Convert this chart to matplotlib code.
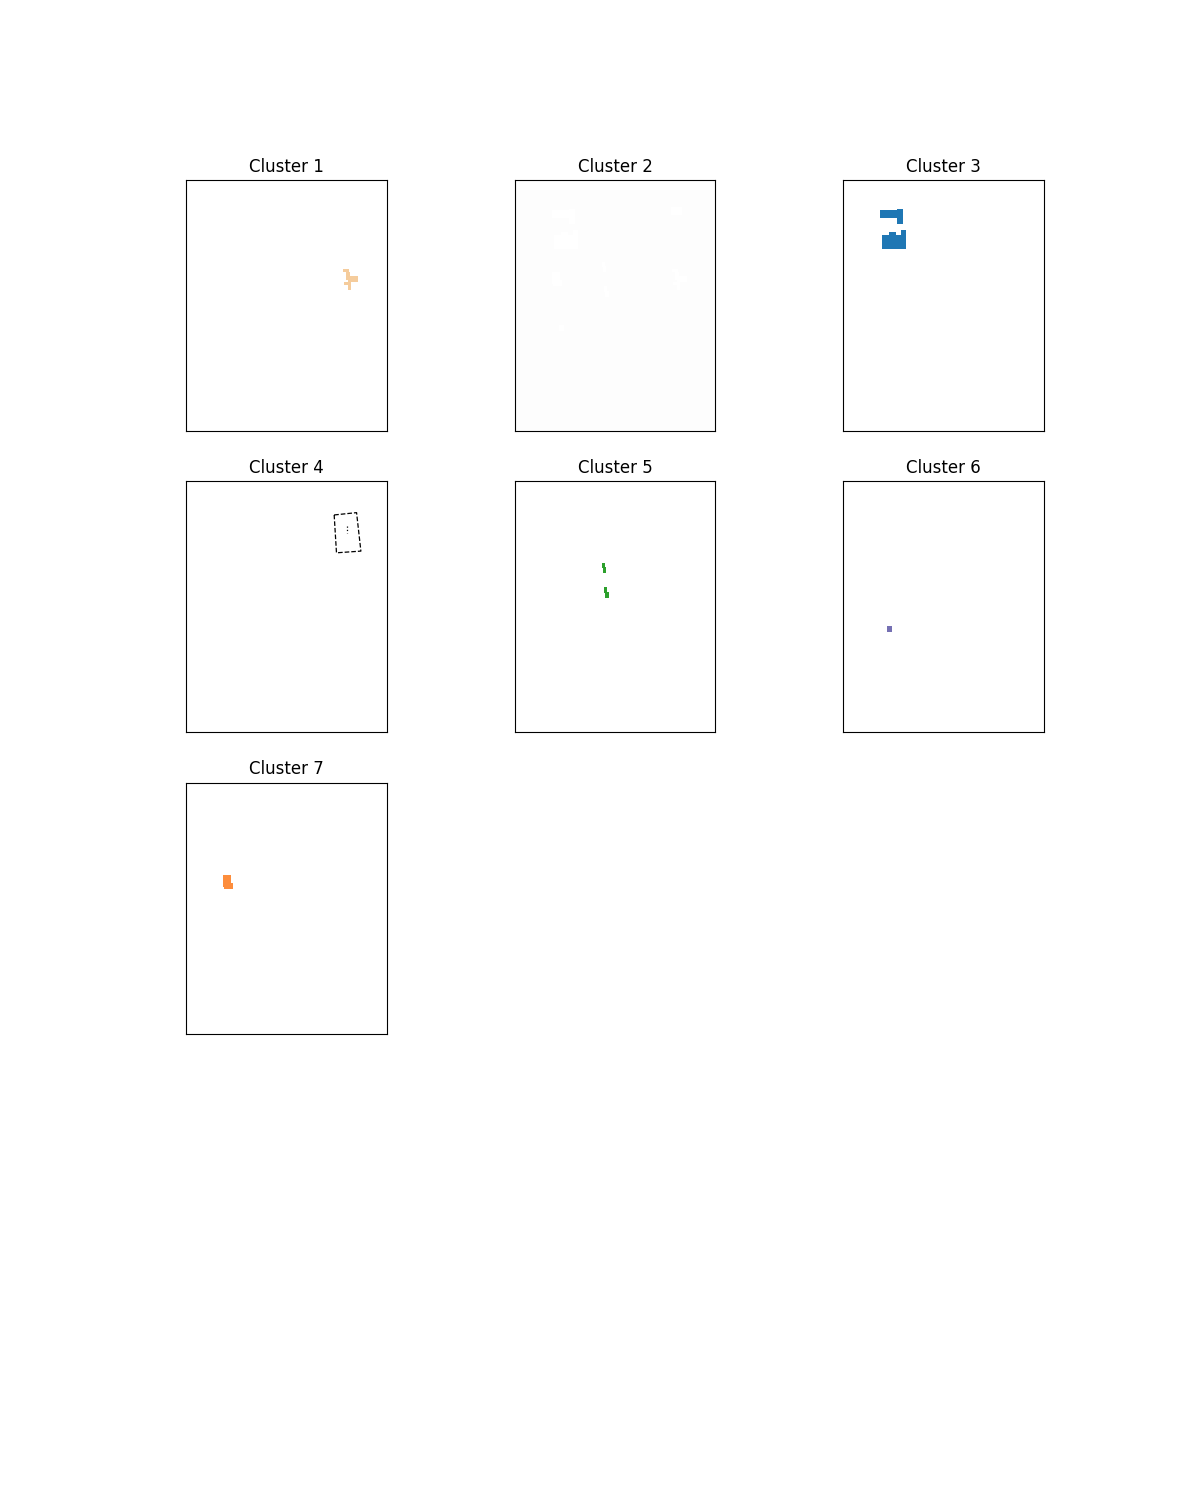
import numpy as np
import matplotlib
matplotlib.use("Agg")
import matplotlib.pyplot as plt
from matplotlib.colors import to_rgb

# image size (rows, cols) of the segmentation map
img_h, img_w = 250, 200

cluster_names = ["Cluster 1", "Cluster 2", "Cluster 3", "Cluster 4",
                 "Cluster 5", "Cluster 6", "Cluster 7"]
cluster_colors = ["#f5cc9c", "#fdfdfd", "#1f77b4", "#ffffff",
                  "#2ca02c", "#7570b3", "#fd8d3c"]

# regions per cluster as rectangles (x0, x1, y0, y1) in pixel coords
# cluster 2 is the background = everything not covered by the others
regions_c1 = [(156, 162, 89, 92), (159, 163, 92, 100), (161, 171, 96, 102),
              (157, 161, 102, 105), (161, 164, 102, 110)]
regions_c3 = [(37, 59, 31, 39), (54, 60, 30, 45),
              (39, 63, 56, 69), (58, 63, 51, 69), (46, 53, 53, 57)]
regions_c4 = [(155, 166, 28, 36)]
regions_c5 = [(87, 90, 82, 87), (88, 91, 86, 92), (89, 92, 106, 112), (90, 94, 111, 117)]
regions_c6 = [(44, 49, 145, 151)]
regions_c7 = [(37, 45, 92, 104), (38, 47, 100, 106)]

# outline of cluster 4 (dashed boundary) and its inner mark
c4_outline_x = [146.7, 169.0, 173.3, 149.0, 146.7]
c4_outline_y = [33.0, 30.7, 69.0, 70.7, 33.0]
c4_mark_x = [159.0, 159.0]
c4_mark_y = [44.0, 51.0]

region_lists = {1: regions_c1, 3: regions_c3, 4: regions_c4,
                5: regions_c5, 6: regions_c6, 7: regions_c7}

labels = np.full((img_h, img_w), 2, dtype=int)
for k, rects in region_lists.items():
    for x0, x1, y0, y1 in rects:
        labels[y0:y1, x0:x1] = k

fig, axes = plt.subplots(4, 3, figsize=(12, 15))
axes = axes.ravel()

for i, name in enumerate(cluster_names):
    ax = axes[i]
    k = i + 1
    rgb = np.ones((img_h, img_w, 3))
    rgb[labels == k] = to_rgb(cluster_colors[i])
    ax.imshow(rgb, interpolation="nearest")
    if k == 4:
        ax.plot(c4_outline_x, c4_outline_y, "k--", linewidth=0.9)
        ax.plot(c4_mark_x, c4_mark_y, "k:", linewidth=0.9)
    ax.set_xticks([])
    ax.set_yticks([])
    ax.set_title(name)

for ax in axes[len(cluster_names):]:
    ax.axis("off")

plt.savefig("out.png", dpi=100)
